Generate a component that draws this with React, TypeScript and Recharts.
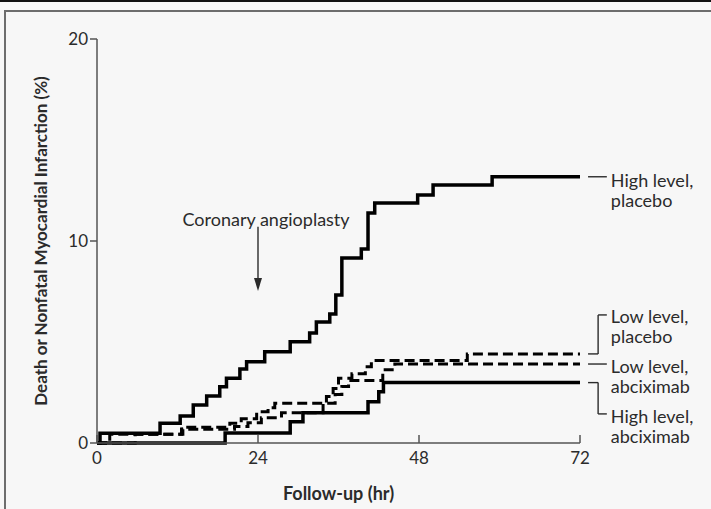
import { LineChart, Line, XAxis, YAxis, ReferenceLine, ReferenceDot } from "recharts";

// follow-up hours where each curve steps, and the cumulative rate (%) after the step
const highPlaceboHours = [0, 0.45, 9.4, 12.4, 14.35, 16.35, 18.3, 19.3, 21.3, 22.3, 25.0, 28.8, 31.7, 32.7, 34.7, 35.6, 36.5, 39.4, 40.4, 41.4, 47.8, 50.1, 58.9, 72];
const highPlaceboRate = [0, 0.48, 0.98, 1.34, 1.88, 2.33, 2.79, 3.2, 3.66, 4.02, 4.52, 5.01, 5.45, 5.99, 6.39, 7.33, 9.16, 9.6, 11.39, 11.88, 12.28, 12.77, 13.18, 13.18];

const lowPlaceboHours = [0, 1.9, 12.6, 19.8, 21.5, 23.8, 25.5, 26.5, 34.2, 35.2, 36.0, 38.0, 40.0, 40.9, 55.2, 72];
const lowPlaceboRate = [0, 0.43, 0.78, 0.98, 1.2, 1.55, 1.75, 1.97, 2.3, 2.7, 3.2, 3.43, 3.78, 4.08, 4.41, 4.41];

const lowAbcHours = [0, 5.7, 12.8, 20.5, 22.5, 24.5, 27.5, 33.7, 35.5, 36.5, 37.5, 42.6, 44.4, 72];
const lowAbcRate = [0, 0.43, 0.68, 0.82, 1.0, 1.25, 1.5, 1.97, 2.4, 2.8, 3.1, 3.63, 3.91, 3.91];

const highAbcHours = [0, 19.1, 28.8, 30.7, 40.4, 42.0, 42.7, 72];
const highAbcRate = [0, 0.5, 1.05, 1.5, 2.04, 2.54, 2.99, 2.99];

const xTicks = [0, 24, 48, 72];
const yTicks = [0, 10, 20];

const seriesLabels = [
  ["High level,", "placebo"],
  ["Low level,", "placebo"],
  ["Low level,", "abciximab"],
  ["High level,", "abciximab"],
];

const toPoints = (hours: number[], rate: number[]) => hours.map((t, i) => ({ t, v: rate[i] }));
const last = (a: number[]) => a[a.length - 1];

const FONT = "Lato, 'Noto Sans', sans-serif";
const INK = "#2b2b2b";

function YTitle(props: any) {
  const { viewBox } = props;
  const x = viewBox.x + 40;
  const y = viewBox.y + viewBox.height / 2;
  return (
    <text x={x} y={y} transform={`rotate(-90 ${x} ${y})`} textAnchor="middle" dominantBaseline="central"
      fontFamily={FONT} fontSize={17} fontWeight={700} fill={INK}>
      Death or Nonfatal Myocardial Infarction (%)
    </text>
  );
}

function XTitle(props: any) {
  const { viewBox } = props;
  return (
    <text x={viewBox.x + viewBox.width / 2} y={viewBox.y + 50} textAnchor="middle" dominantBaseline="central"
      fontFamily={FONT} fontSize={18} fontWeight={700} fill={INK}>
      Follow-up (hr)
    </text>
  );
}

const twoLines = (lines: string[]) => (p: any) => (
  <text x={p.cx} y={p.cy} dominantBaseline="central" fontFamily={FONT} fontSize={18} fill={INK}>
    <tspan x={p.cx} dy={0}>{lines[0]}</tspan>
    <tspan x={p.cx} dy={20}>{lines[1]}</tspan>
  </text>
);

const arrowHead = (p: any) => (
  <polygon points={`${p.cx - 4},${p.cy - 13} ${p.cx + 4},${p.cy - 13} ${p.cx},${p.cy}`} fill={INK} />
);

const plainText = (s: string) => (p: any) => (
  <text x={p.cx} y={p.cy} textAnchor="middle" dominantBaseline="central" fontFamily={FONT} fontSize={18} fill={INK}>
    {s}
  </text>
);

export default function App() {
  const conn = { stroke: INK, strokeWidth: 1.4, ifOverflow: "visible" as const };
  const lineEnd = 73.2;
  const elbow = 74.7;
  const textStart = 76.0;
  const labelX = 76.6;

  return (
    <div style={{ position: "absolute", left: 0, top: 0, width: 711, height: 509, background: "#f7f7f7", overflow: "hidden" }}>
      <div style={{ position: "absolute", left: 0, top: 0, width: 711, height: 2, background: "#111" }} />
      <div style={{ position: "absolute", left: 4, top: 10, width: 740, height: 540, border: "2px solid #6d6d6d" }} />
      <div style={{ position: "absolute", left: 0, top: 0 }}>
        <LineChart width={711} height={509} margin={{ top: 39, right: 131, bottom: 0, left: 0 }}>
          <XAxis type="number" dataKey="t" domain={[0, 72]} ticks={xTicks} height={66}
            axisLine={{ stroke: "#555", strokeWidth: 1.5 }} tickLine={{ stroke: "#555", strokeWidth: 1.5 }}
            tickSize={-8} tickMargin={17}
            tick={{ fontSize: 17, fill: INK, fontFamily: FONT }} label={<XTitle />} />
          <YAxis type="number" domain={[0, 20]} ticks={yTicks} width={97}
            axisLine={{ stroke: "#555", strokeWidth: 1.5 }} tickLine={{ stroke: "#555", strokeWidth: 1.5 }}
            tickSize={7} tickMargin={2}
            tick={{ fontSize: 17, fill: INK, fontFamily: FONT }} label={<YTitle />} />

          <Line data={toPoints(lowPlaceboHours, lowPlaceboRate)} dataKey="v" type="stepAfter" stroke="#000"
            strokeWidth={3} strokeDasharray="10 5" dot={false} isAnimationActive={false} />
          <Line data={toPoints(lowAbcHours, lowAbcRate)} dataKey="v" type="stepAfter" stroke="#000"
            strokeWidth={3} strokeDasharray="10 5" dot={false} isAnimationActive={false} />
          <Line data={toPoints(highAbcHours, highAbcRate)} dataKey="v" type="stepAfter" stroke="#000"
            strokeWidth={3.5} dot={false} isAnimationActive={false} />
          <Line data={toPoints(highPlaceboHours, highPlaceboRate)} dataKey="v" type="stepAfter" stroke="#000"
            strokeWidth={3.5} dot={false} isAnimationActive={false} />

          {/* angioplasty marker */}
          <ReferenceDot x={25.2} y={11.1} r={0} ifOverflow="visible" shape={plainText("Coronary angioplasty")} />
          <ReferenceLine segment={[{ x: 24, y: 10.7 }, { x: 24, y: 8.1 }]} {...conn} />
          <ReferenceDot x={24} y={7.52} r={0} ifOverflow="visible" shape={arrowHead} />

          {/* high level, placebo */}
          <ReferenceLine segment={[{ x: lineEnd, y: last(highPlaceboRate) }, { x: textStart, y: last(highPlaceboRate) }]} {...conn} />
          <ReferenceDot x={labelX} y={13.0} r={0} ifOverflow="visible" shape={twoLines(seriesLabels[0])} />

          {/* low level, placebo */}
          <ReferenceLine segment={[{ x: lineEnd, y: last(lowPlaceboRate) }, { x: elbow, y: last(lowPlaceboRate) }]} {...conn} />
          <ReferenceLine segment={[{ x: elbow, y: last(lowPlaceboRate) }, { x: elbow, y: 6.34 }]} {...conn} />
          <ReferenceLine segment={[{ x: elbow, y: 6.34 }, { x: textStart, y: 6.34 }]} {...conn} />
          <ReferenceDot x={labelX} y={6.29} r={0} ifOverflow="visible" shape={twoLines(seriesLabels[1])} />

          {/* low level, abciximab */}
          <ReferenceLine segment={[{ x: lineEnd, y: last(lowAbcRate) }, { x: textStart, y: last(lowAbcRate) }]} {...conn} />
          <ReferenceDot x={labelX} y={3.81} r={0} ifOverflow="visible" shape={twoLines(seriesLabels[2])} />

          {/* high level, abciximab */}
          <ReferenceLine segment={[{ x: lineEnd, y: last(highAbcRate) }, { x: elbow, y: last(highAbcRate) }]} {...conn} />
          <ReferenceLine segment={[{ x: elbow, y: last(highAbcRate) }, { x: elbow, y: 1.44 }]} {...conn} />
          <ReferenceLine segment={[{ x: elbow, y: 1.44 }, { x: textStart, y: 1.44 }]} {...conn} />
          <ReferenceDot x={labelX} y={1.34} r={0} ifOverflow="visible" shape={twoLines(seriesLabels[3])} />
        </LineChart>
      </div>
    </div>
  );
}
